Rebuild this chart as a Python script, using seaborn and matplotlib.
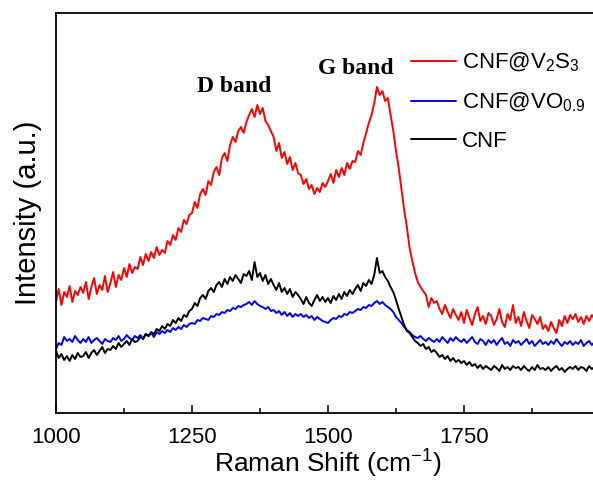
import numpy as np
import pandas as pd
import matplotlib
matplotlib.use("Agg")
import matplotlib.pyplot as plt
import seaborn as sns

# Raman shift grid (cm^-1), 5 cm^-1 steps
shift = list(range(1000, 2000, 5))

# Intensities (a.u.)
cnf_v2s3 = [
    112, 124, 108, 121, 116, 127, 111, 122, 118, 126,
    120, 131, 114, 126, 135, 119, 128, 123, 137, 121,
    130, 141, 126, 138, 133, 145, 136, 149, 140, 146,
    144, 156, 148, 159, 152, 161, 155, 166, 158, 163,
    160, 172, 168, 178, 173, 185, 181, 193, 189, 198,
    200, 211, 205, 219, 224, 218, 232, 228, 241, 246,
    238, 255, 260, 252, 268, 276, 271, 282, 286, 280,
    291, 298, 304, 296, 308, 299, 305, 292, 288, 282,
    276, 262, 270, 255, 261, 249, 256, 243, 250, 240,
    238, 229, 234, 224, 228, 219, 225, 221, 230, 226,
    232, 239, 230, 243, 236, 245, 238, 250, 244, 252,
    251, 262, 258, 270, 280, 290, 298, 310, 326, 318,
    322, 312, 315, 298, 282, 262, 245, 224, 203, 186,
    165, 152, 140, 131, 126, 122, 118, 106, 115, 110,
    112, 104, 99, 108, 101, 95, 104, 98, 93, 101,
    90, 103, 95, 88, 99, 106, 92, 97, 89, 100,
    97, 88, 94, 104, 91, 86, 99, 93, 108, 90,
    96, 87, 101, 92, 85, 98, 94, 89, 96, 84,
    88, 82, 91, 85, 80, 93, 87, 97, 90, 98,
    94, 99, 91, 96, 89, 97, 92, 98, 94, 96,
]

cnf_vo09 = [
    64, 70, 68, 76, 72, 74, 71, 77, 73, 70,
    74, 71, 76, 70, 73, 75, 72, 69, 74, 72,
    71, 75, 73, 77, 72, 74, 78, 75, 73, 77,
    75, 78, 74, 79, 77, 80, 76, 81, 79, 82,
    80, 83, 81, 85, 83, 86, 84, 88, 86, 89,
    90, 89, 93, 92, 95, 94, 93, 97, 96, 99,
    98, 101, 100, 103, 102, 105, 104, 107, 106, 108,
    109, 111, 108, 112, 109, 107, 106, 104, 106, 102,
    103, 100, 102, 98, 101, 97, 100, 96, 99, 97,
    99, 96, 98, 95, 97, 93, 96, 94, 92, 91,
    90, 93, 95, 94, 97, 96, 99, 98, 101, 100,
    102, 104, 103, 106, 105, 108, 107, 110, 112, 109,
    111, 108, 106, 104, 101, 96, 93, 90, 86, 83,
    81, 78, 76, 75, 77, 74, 72, 75, 73, 71,
    74, 71, 76, 73, 70, 75, 72, 76, 73, 71,
    74, 70, 73, 76, 71, 69, 74, 72, 68, 73,
    70, 73, 68, 72, 75, 69, 71, 67, 73, 70,
    72, 68, 71, 74, 69, 72, 67, 70, 73, 69,
    71, 68, 72, 69, 74, 70, 67, 71, 69, 72,
    68, 71, 69, 73, 67, 70, 72, 68, 71, 69,
]

cnf = [
    62, 55, 59, 53, 57, 52, 58, 54, 60, 56,
    57, 61, 55, 60, 63, 58, 62, 66, 60, 64,
    63, 67, 64, 70, 66, 69, 72, 68, 74, 71,
    72, 76, 74, 79, 77, 81, 79, 84, 82, 87,
    84, 89, 87, 93, 90, 95, 92, 98, 96, 102,
    104, 110, 107, 115, 118, 114, 122, 125, 121, 128,
    131, 126, 134, 129, 136, 132, 138, 134, 130, 139,
    137, 142, 133, 151, 136, 140, 132, 138, 129, 134,
    128, 123, 130, 121, 125, 119, 124, 116, 121, 118,
    114, 109, 116, 110, 107, 113, 118, 112, 116, 111,
    115, 110, 117, 113, 119, 114, 121, 117, 123, 119,
    124, 128, 122, 130, 127, 133, 129, 138, 155, 140,
    142, 136, 132, 126, 121, 113, 104, 96, 88, 82,
    80, 76, 72, 70, 67, 69, 64, 66, 61, 63,
    60, 56, 58, 54, 57, 52, 55, 51, 53, 50,
    52, 48, 51, 47, 49, 45, 48, 44, 47, 45,
    43, 47, 45, 42, 48, 44, 46, 43, 47, 45,
    46, 43, 47, 44, 42, 46, 43, 48, 44, 45,
    43, 46, 42, 45, 47, 43, 45, 41, 44, 46,
    44, 47, 43, 46, 45, 42, 47, 44, 46, 45,
]

series_names = ["CNF@V$_\\mathregular{2}$S$_\\mathregular{3}$",
                "CNF@VO$_\\mathregular{0.9}$",
                "CNF"]
series_colors = ["#ff0000", "#0000ff", "#000000"]
x_ticks = [1000, 1250, 1500, 1750]
x_minor = [1125, 1375, 1625, 1875]

frames = []
for name, vals in zip(series_names, [cnf_v2s3, cnf_vo09, cnf]):
    frames.append(pd.DataFrame({"shift": shift, "intensity": vals, "sample": name}))
df = pd.concat(frames, ignore_index=True)

sns.set_theme(style="white")
plt.rcParams["font.family"] = ["Liberation Sans", "DejaVu Sans"]
plt.rcParams["mathtext.fontset"] = "custom"
plt.rcParams["mathtext.rm"] = "Liberation Sans"
plt.rcParams["text.color"] = "black"
plt.rcParams["axes.labelcolor"] = "black"
plt.rcParams["xtick.color"] = "black"

fig = plt.figure(figsize=(5.93, 4.80), dpi=100)
ax = fig.add_axes([56 / 593, 67 / 480, 544 / 593, 400 / 480])

sns.lineplot(data=df, x="shift", y="intensity", hue="sample",
             palette=dict(zip(series_names, series_colors)),
             estimator=None, sort=False, linewidth=1.4, ax=ax, legend=False)

ax.set_xlim(1000, 2000)
ax.set_ylim(0, 400)
ax.set_xticks(x_ticks)
ax.set_xticks(x_minor, minor=True)
ax.set_xticklabels([str(t) for t in x_ticks], fontsize=16)
ax.set_yticks([])
ax.tick_params(axis="x", which="major", direction="in", length=6, width=1.1,
               bottom=True, top=False, pad=10, colors="black")
ax.tick_params(axis="x", which="minor", direction="in", length=3.5, width=1.1,
               bottom=True, top=False)
for side in ["left", "bottom", "top"]:
    ax.spines[side].set_linewidth(1.3)
    ax.spines[side].set_color("black")
ax.spines["right"].set_visible(False)

ax.set_xlabel("Raman Shift (cm$^{\\mathregular{-1}}$)", fontsize=19, labelpad=-1)
ax.set_ylabel("Intensity (a.u.)", fontsize=21, labelpad=10)

ax.text(1327, 326, "D band", fontsize=17, fontweight="bold",
        family="Liberation Serif", ha="center", va="center")
ax.text(1551, 345, "G band", fontsize=17, fontweight="bold",
        family="Liberation Serif", ha="center", va="center")

handles = [plt.Line2D([], [], color=c, lw=1.4) for c in series_colors]
ax.legend(handles, series_names, loc="upper left",
          bbox_to_anchor=(0.653, 0.905), frameon=False,
          fontsize=16, handlelength=2.0, handletextpad=0.3,
          labelspacing=0.75, borderaxespad=0, borderpad=0)

fig.savefig("out.png", dpi=100)
